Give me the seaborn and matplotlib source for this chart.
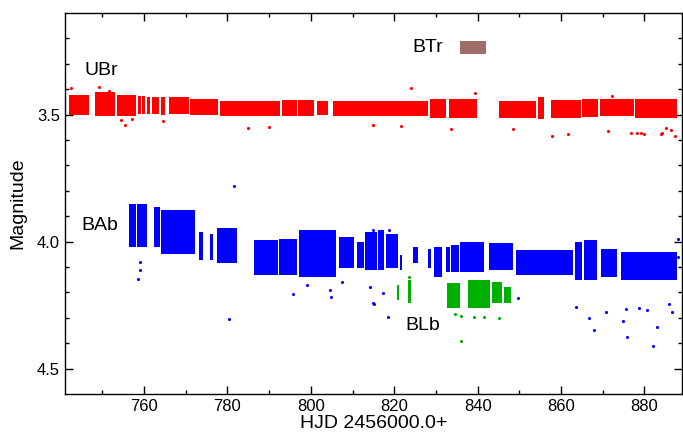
import matplotlib
matplotlib.use("Agg")
import numpy as np
import pandas as pd
import matplotlib.pyplot as plt
import seaborn as sns

# observing blocks: start / end (HJD-2456000), magnitude range (bright, faint)
ubr_start = [742.0, 748.2, 753.5, 758.6, 759.5, 760.7, 761.8, 762.7, 764.0, 765.9, 771.0,
             778.1, 793.1, 796.9, 801.4, 805.4, 828.5, 833.1, 845.0, 854.5, 857.5,
             865.1, 869.4, 877.7]
ubr_end = [746.9, 752.9, 758.1, 759.3, 760.3, 761.3, 762.5, 763.5, 765.1, 770.7, 777.7,
           792.6, 796.6, 800.8, 804.1, 828.0, 832.5, 839.9, 853.9, 855.8, 864.7,
           868.9, 877.5, 887.8]
ubr_lo = [3.422, 3.412, 3.422, 3.426, 3.426, 3.430, 3.430, 3.430, 3.432, 3.432, 3.439,
          3.445, 3.442, 3.442, 3.445, 3.445, 3.439, 3.439, 3.445, 3.432, 3.442,
          3.439, 3.439, 3.439]
ubr_hi = [3.500, 3.507, 3.504, 3.497, 3.497, 3.497, 3.497, 3.497, 3.500, 3.497, 3.500,
          3.504, 3.507, 3.505, 3.500, 3.507, 3.512, 3.512, 3.512, 3.517, 3.512,
          3.510, 3.507, 3.512]
ubr_out_x = [742.5, 749.3, 751.7, 754.5, 755.3, 757.2, 764.6, 784.8, 789.9, 814.8, 824.0,
             815.0, 821.6, 833.6, 839.4, 848.5, 857.9, 861.7, 871.3, 876.7, 878.2,
             879.9, 883.9, 887.3, 872.1, 879.1, 885.1, 886.3, 884.1]
ubr_out_y = [3.395, 3.392, 3.405, 3.520, 3.539, 3.517, 3.526, 3.552, 3.548, 3.539, 3.395,
             3.539, 3.546, 3.556, 3.416, 3.558, 3.584, 3.578, 3.565, 3.571, 3.571,
             3.578, 3.578, 3.584, 3.426, 3.574, 3.553, 3.560, 3.574]

bab_start = [756.3, 758.3, 762.3, 764.1, 773.1, 775.8, 777.4, 786.4, 792.3, 797.1, 806.8,
             811.0, 813.0, 816.0, 818.1, 821.3, 824.4, 828.2, 829.6, 832.4, 833.6,
             835.7, 842.7, 849.1, 863.3, 865.5, 869.5, 874.3]
bab_end = [758.1, 760.7, 763.9, 772.1, 774.2, 776.6, 782.2, 792.0, 796.6, 806.0, 810.4,
           812.8, 815.8, 817.6, 820.8, 821.8, 825.6, 828.8, 831.5, 833.3, 835.5,
           841.5, 848.5, 862.9, 865.1, 868.7, 873.5, 887.8]
bab_lo = [3.850, 3.850, 3.864, 3.876, 3.961, 3.968, 3.948, 3.994, 3.988, 3.955, 3.981,
          4.001, 3.961, 3.955, 3.968, 4.053, 4.020, 4.027, 4.020, 4.020, 4.014,
          4.001, 4.007, 4.033, 4.001, 3.994, 4.027, 4.040]
bab_hi = [4.020, 4.020, 4.020, 4.050, 4.073, 4.073, 4.086, 4.131, 4.131, 4.138, 4.105,
          4.105, 4.110, 4.112, 4.105, 4.112, 4.086, 4.105, 4.138, 4.118, 4.118,
          4.118, 4.112, 4.131, 4.151, 4.151, 4.138, 4.151]
bab_out_x = [759.0, 759.0, 758.5, 781.5, 780.3, 795.6, 804.8, 815.2, 814.2, 818.5, 814.9,
             867.9, 875.9, 883.0, 866.7, 863.5, 870.8, 875.5, 880.6, 885.8, 886.6,
             849.7, 817.2, 814.8, 818.8, 874.8, 882.0, 878.7, 888.0, 888.0, 799.0,
             804.5, 807.5]
bab_out_y = [4.080, 4.110, 4.147, 3.782, 4.304, 4.206, 4.219, 4.245, 4.180, 4.295, 4.242,
             4.347, 4.376, 4.337, 4.301, 4.256, 4.278, 4.265, 4.269, 4.245, 4.278,
             4.223, 4.201, 3.955, 3.955, 4.311, 4.409, 4.262, 3.990, 4.060, 4.170,
             4.190, 4.160]

blb_start = [820.6, 823.3, 832.6, 837.6, 843.5, 846.3]
blb_end = [821.2, 824.0, 835.7, 842.9, 845.8, 848.0]
blb_lo = [4.171, 4.151, 4.164, 4.151, 4.157, 4.177]
blb_hi = [4.229, 4.242, 4.262, 4.262, 4.242, 4.242]
blb_out_x = [834.6, 835.9, 839.1, 841.5, 845.1, 823.6, 836.1]
blb_out_y = [4.284, 4.292, 4.295, 4.295, 4.301, 4.141, 4.391]

btr_start = [835.7]
btr_end = [842.1]
btr_lo = [3.210]
btr_hi = [3.262]

series = {
    "UBr": (ubr_start, ubr_end, ubr_lo, ubr_hi, ubr_out_x, ubr_out_y, "#ff0000"),
    "BAb": (bab_start, bab_end, bab_lo, bab_hi, bab_out_x, bab_out_y, "#0000ff"),
    "BLb": (blb_start, blb_end, blb_lo, blb_hi, blb_out_x, blb_out_y, "#00b000"),
    "BTr": (btr_start, btr_end, btr_lo, btr_hi, [], [], "#a06e69"),
}

sns.set_theme(style="ticks", rc={"text.color": "black", "axes.labelcolor": "black",
                                 "xtick.color": "black", "ytick.color": "black",
                                 "axes.edgecolor": "black"})
plt.rcParams["font.family"] = ["Liberation Sans", "DejaVu Sans"]

fig = plt.figure(figsize=(6.83, 4.34), dpi=100)
ax = fig.add_axes([0.095, 0.092, 0.9035, 0.878])

for name, (st, en, lo, hi, ox, oy, col) in series.items():
    st = np.array(st)
    en = np.array(en)
    lo = np.array(lo)
    hi = np.array(hi)
    ax.bar((st + en) / 2, hi - lo, width=en - st, bottom=lo, color=col,
           linewidth=0, align="center")
    if len(ox):
        pts = pd.DataFrame({"x": ox, "y": oy})
        sns.scatterplot(data=pts, x="x", y="y", color=col, s=5, linewidth=0, ax=ax)

# labels
ax.text(745.7, 3.327, "UBr", fontsize=14, va="center")
ax.text(824.3, 3.237, "BTr", fontsize=14, va="center")
ax.text(745.0, 3.935, "BAb", fontsize=14, va="center")
ax.text(822.6, 4.331, "BLb", fontsize=14, va="center")

ax.set_xlim(741, 889)
ax.set_ylim(4.6, 3.1)
ax.set_xticks([760, 780, 800, 820, 840, 860, 880])
ax.set_xticks(np.arange(750, 889, 10), minor=True)
ax.set_yticks([3.5, 4.0, 4.5])
ax.set_yticks(np.arange(3.2, 4.6, 0.1), minor=True)
ax.tick_params(which="both", direction="in", top=True, right=True, labelsize=12,
               color="black", labelcolor="black", width=1)
ax.tick_params(which="major", length=6)
ax.tick_params(which="minor", length=3)
for sp in ax.spines.values():
    sp.set_color("black")
    sp.set_linewidth(1)
ax.set_xlabel("HJD 2456000.0+", fontsize=14, labelpad=1)
ax.set_ylabel("Magnitude", fontsize=14, labelpad=8)

fig.savefig("out.png", dpi=100)
